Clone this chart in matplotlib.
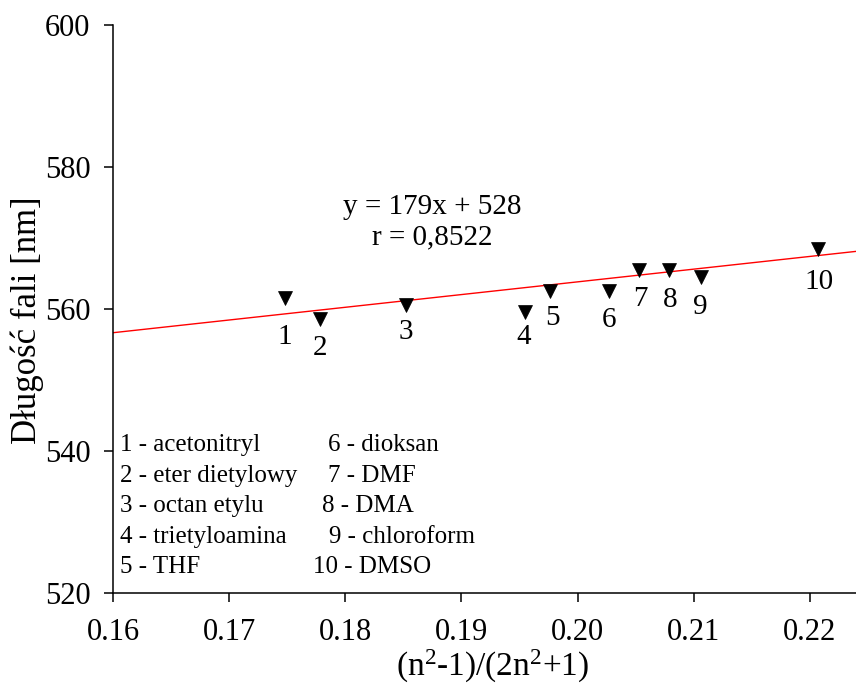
import matplotlib
matplotlib.use("Agg")
import matplotlib.pyplot as plt
import numpy as np
from matplotlib.ticker import FormatStrFormatter

plt.rcParams['font.family'] = ['Liberation Serif', 'DejaVu Serif']
plt.rcParams['mathtext.fontset'] = 'custom'
plt.rcParams['mathtext.rm'] = 'Liberation Serif'
plt.rcParams['mathtext.default'] = 'regular'

# Solvent data: polarity function vs emission wavelength
solvent_no = ['1', '2', '3', '4', '5', '6', '7', '8', '9', '10']
solvent_names = ['acetonitryl', 'eter dietylowy', 'octan etylu', 'trietyloamina', 'THF',
                 'dioksan', 'DMF', 'DMA', 'chloroform', 'DMSO']
polarity = [0.1748, 0.1778, 0.1852, 0.1955, 0.1976, 0.2027, 0.2053, 0.2079, 0.2106, 0.2207]
wavelength = [561.5, 558.6, 560.5, 559.5, 562.5, 562.5, 565.5, 565.5, 564.5, 568.5]

# Linear fit as printed on the chart
slope = 179
intercept = 528
r_value = '0,8522'

# label offsets below each marker (points)
label_dx = [0, 0, 0, -1, 2, 0, 1, 0.5, 0, 1]
label_dy = [-28, -21, -19.5, -17.6, -19.2, -20.7, -21.2, -21.6, -21.6, -24]

fig = plt.figure(figsize=(8.56, 6.86), dpi=100)
ax = fig.add_axes([0.1324, 0.136, 0.8676, 0.8276])

xmin, xmax = 0.16, 0.224
xs = np.array([xmin, xmax])
ax.plot(xs, slope * xs + intercept, color='red', lw=1.0, zorder=2)
ax.plot(polarity, wavelength, linestyle='none', marker='v', ms=9.5,
        color='black', mew=0.5, zorder=3)

for i in range(len(polarity)):
    ax.annotate(solvent_no[i], (polarity[i], wavelength[i]),
                xytext=(label_dx[i], label_dy[i]), textcoords='offset points',
                ha='center', va='center', fontsize=21)

ax.text(0.1875, 574.4, 'y = %dx + %d' % (slope, intercept), ha='center', va='center', fontsize=21)
ax.text(0.1875, 570.0, 'r = ' + r_value, ha='center', va='center', fontsize=21)

# legend of solvents, two columns
col2_x = [0.1785, 0.1785, 0.1780, 0.1786, 0.1772]
for i in range(5):
    yy = 540.8 - 4.3 * i
    ax.text(0.16058, yy, solvent_no[i] + ' - ' + solvent_names[i], ha='left', va='center', fontsize=18)
    ax.text(col2_x[i], yy, solvent_no[i + 5] + ' - ' + solvent_names[i + 5],
            ha='left', va='center', fontsize=18)

ax.set_xlim(xmin, xmax)
ax.set_ylim(520, 600)
ax.set_xticks(np.arange(0.16, 0.2201, 0.01))
ax.set_yticks(np.arange(520, 601, 20))
ax.xaxis.set_major_formatter(FormatStrFormatter('%.2f'))
ax.spines['top'].set_visible(False)
ax.spines['right'].set_visible(False)
for s in ['left', 'bottom']:
    ax.spines[s].set_linewidth(1.1)
ax.tick_params(direction='out', length=6.5, width=1.1, labelsize=22)
ax.tick_params(axis='x', pad=12)
ax.tick_params(axis='y', pad=10)

ax.set_xlabel('(n$^2$-1)/(2n$^2$+1)', fontsize=24, labelpad=0)
ax.xaxis.set_label_coords(0.51, -0.097)
ax.xaxis.label.set_va('top')
ax.set_ylabel('Długość fali [nm]', fontsize=25)
ax.yaxis.set_label_coords(-0.093, 0.48)

plt.savefig('out.png', dpi=100)
